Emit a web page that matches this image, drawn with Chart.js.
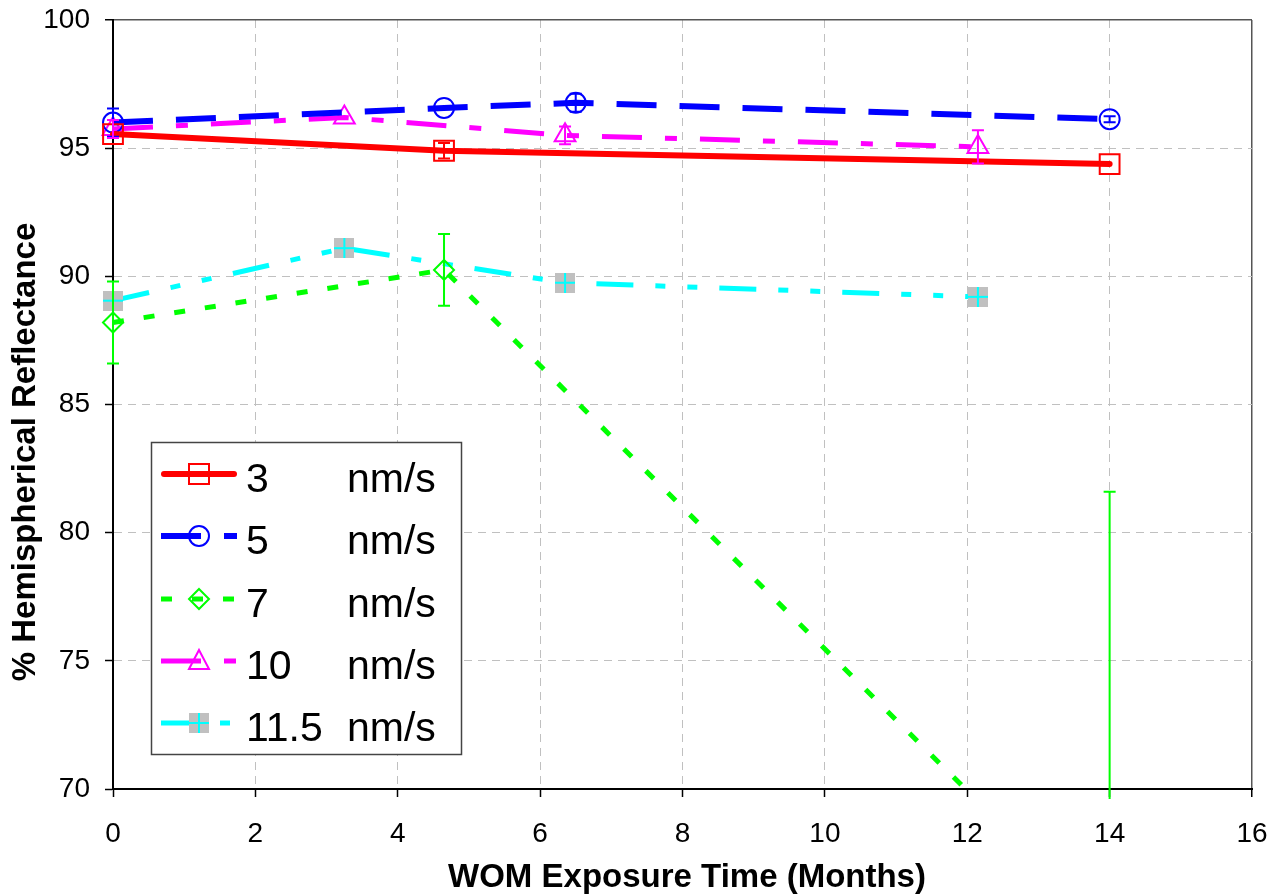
<!DOCTYPE html>
<html><head><meta charset="utf-8">
<script src="https://cdn.jsdelivr.net/npm/chart.js@4/dist/chart.umd.min.js"></script>
<style>html,body{margin:0;padding:0;background:#fff}#wrap{width:1272px;height:895px}</style>
</head><body><div id="wrap"><canvas id="c" width="1272" height="895"></canvas></div>
<script>
// ---- data ----
const seriesNames = ['3', '5', '7', '10', '11.5'];
const unitLabel = 'nm/s';
const xTitle = 'WOM Exposure Time (Months)';
const yTitle = '% Hemispherical Reflectance';
const xTicks = [0, 2, 4, 6, 8, 10, 12, 14, 16];
const yTicks = [70, 75, 80, 85, 90, 95, 100];

const x3 = [0, 4.65, 14];
const y3 = [95.55, 94.9, 94.38];
const e3 = [0, 0.3, 0];

const x5 = [0, 4.65, 6.5, 14];
const y5 = [96.0, 96.57, 96.77, 96.13];
const e5 = [0.55, 0, 0.35, 0.12];

const x7 = [0, 4.65, 14];
const y7 = [88.2, 90.25, 64.4];
const e7 = [1.6, 1.4, 17.2];

const x10 = [0, 3.25, 6.35, 12.15];
const y10 = [95.75, 96.2, 95.5, 95.05];
const e10 = [0.35, 0, 0.35, 0.65];

const x115 = [0, 3.25, 6.35, 12.15];
const y115 = [89.05, 91.1, 89.75, 89.2];
const e115 = [0, 0, 0, 0];

// ---- styles ----
const FONT = "'Liberation Sans', Arial, Helvetica, sans-serif";
const RED = '#ff0000', BLUE = '#0000ff', GREEN = '#00ff00', MAG = '#ff00ff', CYAN = '#00ffff';

const cyanMarker = document.createElement('canvas');
cyanMarker.width = 20; cyanMarker.height = 20;
(function () {
  const g = cyanMarker.getContext('2d');
  g.fillStyle = '#c0c0c0'; g.fillRect(0, 0, 20, 20);
  g.strokeStyle = CYAN; g.lineWidth = 2;
  g.beginPath(); g.moveTo(0, 10); g.lineTo(20, 10); g.moveTo(10, 0); g.lineTo(10, 20); g.stroke();
})();

const pts = (xs, ys) => xs.map((v, i) => ({ x: v, y: ys[i] }));

const series = [
  { xs: x3, ys: y3, es: e3, color: RED, width: 6, dash: [], cap: 'round', style: 'rect', r: 14 },
  { xs: x5, ys: y5, es: e5, color: BLUE, width: 6, dash: [40, 23], cap: 'butt', style: 'circle', r: 10 },
  { xs: x7, ys: y7, es: e7, color: GREEN, width: 5, dash: [11, 20], cap: 'butt', style: 'rectRot', r: 10 },
  { xs: x10, ys: y10, es: e10, color: MAG, width: 5, dash: [40, 23, 12, 23], cap: 'butt', style: 'triangle', r: 12 },
  { xs: x115, ys: y115, es: e115, color: CYAN, width: 5, dash: [37, 22, 10, 22, 10, 22], cap: 'butt', style: cyanMarker, r: 10 }
];

const datasets = series.map((s, i) => ({
  label: seriesNames[i] + ' ' + unitLabel,
  data: pts(s.xs, s.ys),
  borderColor: s.color,
  backgroundColor: 'rgba(0,0,0,0)',
  borderWidth: s.width,
  borderDash: s.dash,
  borderCapStyle: s.cap,
  tension: 0,
  fill: false,
  clip: { left: 20, top: 20, right: 20, bottom: 0 },
  pointStyle: s.style,
  pointRadius: s.r,
  pointBorderColor: s.color,
  pointBackgroundColor: 'rgba(0,0,0,0)',
  pointBorderWidth: 2
}));

function drawMarker(ctx, s, x, y) {
  ctx.save();
  ctx.strokeStyle = s.color; ctx.lineWidth = 2; ctx.setLineDash([]);
  ctx.beginPath();
  if (s.style === 'rect') { ctx.rect(x - 10, y - 10, 20, 20); ctx.stroke(); }
  else if (s.style === 'circle') { ctx.arc(x, y, 10, 0, Math.PI * 2); ctx.stroke(); }
  else if (s.style === 'rectRot') { ctx.moveTo(x, y - 10); ctx.lineTo(x + 10, y); ctx.lineTo(x, y + 10); ctx.lineTo(x - 10, y); ctx.closePath(); ctx.stroke(); }
  else if (s.style === 'triangle') { ctx.moveTo(x, y - 11); ctx.lineTo(x + 10, y + 8); ctx.lineTo(x - 10, y + 8); ctx.closePath(); ctx.stroke(); }
  else { ctx.drawImage(cyanMarker, x - 10, y - 10, 20, 20); }
  ctx.restore();
}

const extras = {
  id: 'extras',
  afterDatasetsDraw(chart) {
    const { ctx, chartArea: a, scales: { x, y } } = chart;
    // error bars
    ctx.save();
    ctx.beginPath(); ctx.rect(a.left - 20, a.top - 20, a.right - a.left + 40, a.bottom - a.top + 30); ctx.clip();
    series.forEach(s => {
      ctx.strokeStyle = s.color; ctx.lineWidth = 2; ctx.setLineDash([]);
      s.xs.forEach((xv, i) => {
        const e = s.es[i]; if (!e) return;
        const px = x.getPixelForValue(xv);
        const t = y.getPixelForValue(s.ys[i] + e), b = y.getPixelForValue(s.ys[i] - e);
        ctx.beginPath();
        ctx.moveTo(px, t); ctx.lineTo(px, b);
        ctx.moveTo(px - 6, t); ctx.lineTo(px + 6, t);
        ctx.moveTo(px - 6, b); ctx.lineTo(px + 6, b);
        ctx.stroke();
      });
    });
    ctx.restore();
  },
  afterDraw(chart) {
    const ctx = chart.ctx;
    // legend
    ctx.save();
    ctx.fillStyle = '#fff'; ctx.fillRect(151, 442, 310, 312);
    ctx.strokeStyle = '#444'; ctx.lineWidth = 1.5; ctx.strokeRect(151.5, 442.5, 310, 312);
    series.forEach((s, i) => {
      const yy = Math.round(474 + i * 62.3);
      ctx.save();
      ctx.strokeStyle = s.color; ctx.lineWidth = s.width; ctx.setLineDash(s.dash); ctx.lineCap = s.cap;
      ctx.beginPath(); ctx.moveTo(s.cap === 'round' ? 164 : 161, yy); ctx.lineTo(s.cap === 'round' ? 234 : 237, yy); ctx.stroke();
      ctx.restore();
      drawMarker(ctx, s, 199, yy);
      ctx.fillStyle = '#000'; ctx.font = '41px ' + FONT; ctx.textBaseline = 'alphabetic'; ctx.textAlign = 'left';
      ctx.fillText(seriesNames[i], 246, yy + 18);
      ctx.fillText(unitLabel, 347, yy + 18);
    });
    // axis titles
    ctx.fillStyle = '#000'; ctx.font = 'bold 33px ' + FONT; ctx.textAlign = 'center'; ctx.textBaseline = 'middle';
    ctx.fillText(xTitle, 687, 878);
    ctx.translate(26, 452); ctx.rotate(-Math.PI / 2);
    ctx.fillText(yTitle, 0, 0);
    ctx.restore();
  }
};

const gridCommon = (edge) => ({
  color: c => (c.tick && c.tick.value === edge) ? '#555' : '#c0c0c0',
  lineWidth: c => (c.tick && c.tick.value === edge) ? 1.5 : 1,
  tickColor: '#000', tickWidth: 1.5, tickLength: 8, drawTicks: true
});

const zeroPad = sc => { sc.paddingTop = 0; sc.paddingBottom = 0; sc.paddingLeft = 0; sc.paddingRight = 0; };

new Chart(document.getElementById('c'), {
  type: 'line',
  data: { datasets },
  plugins: [extras],
  options: {
    responsive: false, animation: false, devicePixelRatio: 1,
    layout: { padding: { top: 20, right: 20, left: 0, bottom: 0 } },
    plugins: { legend: { display: false }, tooltip: { enabled: false }, title: { display: false } },
    scales: {
      x: {
        type: 'linear', min: xTicks[0], max: xTicks[xTicks.length - 1],
        afterBuildTicks: sc => { sc.ticks = xTicks.map(v => ({ value: v })); },
        afterFit: sc => { sc.height = 106; zeroPad(sc); },
        ticks: { color: '#000', font: { family: FONT, size: 28 }, padding: 20, maxRotation: 0 },
        grid: gridCommon(16),
        border: { color: '#000', width: 2, dash: c => (c.tick && c.tick.value === 16) ? [] : [8, 6] }
      },
      y: {
        type: 'linear', min: yTicks[0], max: yTicks[yTicks.length - 1],
        afterBuildTicks: sc => { sc.ticks = yTicks.map(v => ({ value: v })); },
        afterFit: sc => { sc.width = 113; zeroPad(sc); },
        ticks: { color: '#000', font: { family: FONT, size: 28 }, padding: 15 },
        grid: gridCommon(100),
        border: { color: '#000', width: 2, dash: c => (c.tick && c.tick.value === 100) ? [] : [8, 6] }
      }
    }
  }
});
</script></body></html>
